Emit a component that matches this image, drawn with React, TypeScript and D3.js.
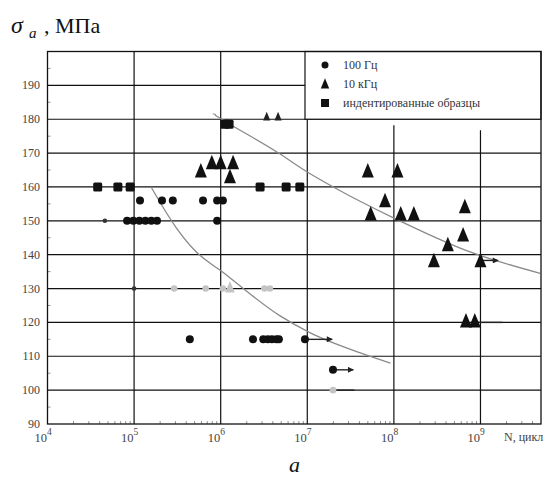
import React from "react";
import * as d3 from "d3";

// 100 Гц (filled circles): [N, sigma]
const hz100 = [
  [1.17e5, 156], [2.1e5, 156], [2.8e5, 156], [6.25e5, 156], [9.1e5, 156], [1.06e6, 156],
  [8.3e4, 150], [9.8e4, 150], [1.15e5, 150], [1.35e5, 150], [1.58e5, 150], [1.84e5, 150], [9.1e5, 150],
  [4.4e5, 115], [2.36e6, 115], [3.1e6, 115], [3.5e6, 115], [3.9e6, 115], [4.4e6, 115], [4.7e6, 115], [9.4e6, 115],
  [1.98e7, 106],
];
const hz100Small = [[4.6e4, 150], [1.0e5, 130]];
const faintCircles = [[2.9e5, 130], [6.7e5, 130], [1.06e6, 130], [3.2e6, 130], [3.7e6, 130], [1.98e7, 100]];
const faintTriangles = [[1.28e6, 130]];

// 10 кГц (triangles)
const khz10 = [
  [5.9e5, 164.3], [7.9e5, 166.7], [1.0e6, 166.7], [1.39e6, 166.7], [1.28e6, 162.6],
  [5.0e7, 164.3], [1.1e8, 164.3], [7.9e7, 155.5], [5.4e7, 151.6], [1.2e8, 151.6], [1.7e8, 151.6],
  [6.6e8, 153.7], [6.3e8, 145.4], [4.2e8, 142.5], [2.9e8, 137.8], [1.0e9, 137.8],
  [6.8e8, 120], [8.6e8, 120],
];
const khz10Small = [[3.4e6, 180.5], [4.6e6, 180.5]];

// индентированные образцы (squares)
const indented = [
  [3.8e4, 160], [6.5e4, 160], [9.0e4, 160], [2.85e6, 160], [5.7e6, 160], [8.2e6, 160],
  [1.12e6, 178.5], [1.25e6, 178.5],
];

// runouts: [N from, N to, sigma, arrowhead]
const runouts: [number, number, number, boolean][] = [
  [9.4e6, 1.94e7, 115, true],
  [1.98e7, 3.4e7, 106, true],
  [1.98e7, 3.5e7, 100, false],
  [1.0e9, 1.6e9, 138.3, true],
  [8.6e8, 1.8e9, 120, false],
];

// fitted curves
const curve100 = [
  [1.57e5, 160], [3.1e5, 147.8], [5.0e5, 141.3], [1.06e6, 134.8],
  [4.8e6, 122], [1.07e7, 117], [4.1e7, 111], [9.1e7, 108],
];
const curve10k = [
  [8.6e5, 181.2], [1.21e6, 178.9], [4.6e6, 170.1], [9.9e6, 164.5], [2.2e7, 159.4],
  [9.5e7, 151.1], [7.6e8, 140.8], [4.9e9, 134.5],
];

const yTicks = [90, 100, 110, 120, 130, 140, 150, 160, 170, 180, 190];
const decades = [4, 5, 6, 7, 8, 9];
const legendItems = ["100 Гц", "10 кГц", "индентированные образцы"];

const W = 557, H = 493;
const L = 47.5, R = 541, T = 51.5, B = 424;

const x = d3.scaleLog().domain([1e4, 5e9]).range([L, R]);
const y = d3.scaleLinear().domain([90, 200]).range([B, T]);

const triPath = (cx: number, cy: number, s: number) =>
  `M${cx},${cy - s * 0.95}L${cx + s * 0.6},${cy + s * 0.5}L${cx - s * 0.6},${cy + s * 0.5}Z`;

export default function App() {
  const line = d3.line<number[]>().x(d => x(d[0])).y(d => y(d[1])).curve(d3.curveMonotoneX);
  const minorX: number[] = [];
  decades.forEach(e => {
    for (let k = 2; k <= 9; k++) {
      const v = k * Math.pow(10, e);
      if (v < 5e9) minorX.push(v);
    }
  });
  const minorY = d3.range(95, 200, 10);
  const serif = "'Liberation Serif', 'Times New Roman', 'DejaVu Serif', serif";
  const legX = 305, legB = y(180);

  return (
    <svg width={W} height={H} style={{ position: "absolute", left: 0, top: 0, background: "#fff", fontFamily: serif }}>
      <defs>
        <marker id="arr" viewBox="0 0 10 10" refX="9" refY="5" markerWidth="7" markerHeight="6" orient="auto" markerUnits="userSpaceOnUse">
          <path d="M0,0L10,5L0,10Z" fill="#222" />
        </marker>
      </defs>

      {/* title */}
      <text x={11} y={33} fontSize={24} fontStyle="italic" fill="#111">σ</text>
      <text x={29} y={38} fontSize={15} fontStyle="italic" fill="#111">a</text>
      <text x={44} y={33} fontSize={22} fill="#111">, МПа</text>

      {/* horizontal grid */}
      {yTicks.slice(1).map(t => (
        <line key={t} x1={L} x2={t >= 180 ? (t === 180 ? R : legX) : R} y1={y(t)} y2={y(t)} stroke="#111" strokeWidth={1.2} />
      ))}
      {/* vertical grid */}
      {decades.slice(1).map(e => (
        <line key={e} x1={x(Math.pow(10, e))} x2={x(Math.pow(10, e))} y1={e >= 8 ? legB + (e === 8 ? 6 : 11) : T} y2={B} stroke="#111" strokeWidth={1.2} />
      ))}

      {/* minor ticks */}
      {minorX.map((v, i) => (
        <line key={"mx" + i} x1={x(v)} x2={x(v)} y1={B} y2={B - 3} stroke="#777" strokeWidth={0.8} />
      ))}
      {minorY.map(v => (
        <line key={"my" + v} x1={L} x2={L + 3} y1={y(v)} y2={y(v)} stroke="#777" strokeWidth={0.8} />
      ))}

      {/* legend */}
      <rect x={legX} y={T} width={R - legX} height={legB - T} fill="#fff" stroke="#111" strokeWidth={1.2} />
      {legendItems.map((s, i) => {
        const cy = 65 + i * 19;
        return (
          <g key={s}>
            {i === 0 && <circle cx={325} cy={cy} r={3.5} fill="#111" />}
            {i === 1 && <path d={triPath(325, cy + 1, 7)} fill="#111" />}
            {i === 2 && <rect x={321} y={cy - 4} width={8} height={8} fill="#111" />}
            <text x={343} y={cy + 4} fontSize={12} fill="#333">{s}</text>
          </g>
        );
      })}

      {/* curves */}
      <path d={line(curve100) || ""} fill="none" stroke="#8a8a8a" strokeWidth={1.3} />
      <path d={line(curve10k) || ""} fill="none" stroke="#8a8a8a" strokeWidth={1.3} />
      <line x1={x(8.1e5)} x2={x(8.8e5)} y1={y(181.6)} y2={y(181.4)} stroke="#888" strokeWidth={1} />

      {/* runouts */}
      {runouts.map((r, i) => (
        <line key={"r" + i} x1={x(r[0])} x2={x(r[1])} y1={y(r[2])} y2={y(r[2])} stroke="#222" strokeWidth={1.4}
          markerEnd={r[3] ? "url(#arr)" : undefined} />
      ))}

      {/* faint markers */}
      {faintCircles.map((d, i) => (
        <circle key={"fc" + i} cx={x(d[0])} cy={y(d[1])} r={3.3} fill="#c4c4c4" />
      ))}
      {faintTriangles.map((d, i) => (
        <path key={"ft" + i} d={triPath(x(d[0]), y(d[1]), 8)} fill="#c4c4c4" />
      ))}

      {/* data markers */}
      {indented.map((d, i) => (
        <rect key={"s" + i} x={x(d[0]) - 4.5} y={y(d[1]) - 4.5} width={9} height={9} rx={1.5} fill="#111" />
      ))}
      {hz100.map((d, i) => (
        <circle key={"c" + i} cx={x(d[0])} cy={y(d[1])} r={4} fill="#111" />
      ))}
      {hz100Small.map((d, i) => (
        <circle key={"cs" + i} cx={x(d[0])} cy={y(d[1])} r={2.3} fill="#333" />
      ))}
      {khz10.map((d, i) => (
        <path key={"t" + i} d={triPath(x(d[0]), y(d[1]), 10)} fill="#111" />
      ))}
      {khz10Small.map((d, i) => (
        <path key={"ts" + i} d={triPath(x(d[0]), y(d[1]), 6)} fill="#222" />
      ))}

      {/* frame */}
      <rect x={L} y={T} width={R - L} height={B - T} fill="none" stroke="#111" strokeWidth={1.3} />

      {/* y labels */}
      {yTicks.map(t => (
        <text key={t} x={40} y={y(t) + 4} textAnchor="end" fontSize={12} fill="#444">{t}</text>
      ))}
      {/* x labels */}
      {decades.map(e => (
        <text key={e} x={x(Math.pow(10, e)) - 13} y={442} fontSize={12.5} fill="#444">
          10<tspan dy={-7} fontSize={9.5}>{e}</tspan>
        </text>
      ))}
      <text x={504} y={441} fontSize={12} fill="#444">N, цикл</text>

      <text x={289} y={472} fontSize={22} fontStyle="italic" fill="#111">a</text>
    </svg>
  );
}
